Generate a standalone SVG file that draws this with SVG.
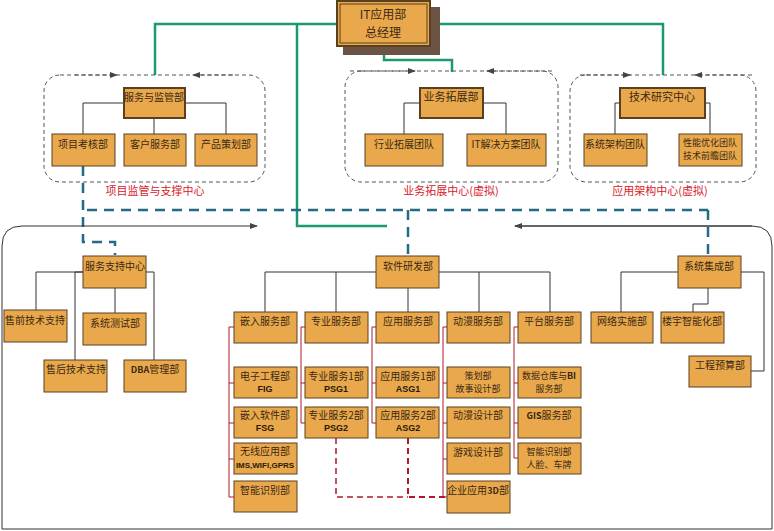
<svg xmlns="http://www.w3.org/2000/svg" width="774" height="531" viewBox="0 0 774 531">
<style>
.b{fill:#e9a84b;stroke:#5b4020;stroke-width:1}
.t{font-family:"Noto Sans CJK SC",sans-serif;font-size:10px;fill:#3a2814;text-anchor:middle}
.s{font-size:9px}
.tb{font-family:"Liberation Sans","Noto Sans CJK SC",sans-serif;font-size:9px;font-weight:bold;fill:#2a1a0a;text-anchor:middle}
.r{font-family:"Noto Sans CJK SC",sans-serif;font-size:11px;fill:#d8202a;text-anchor:middle}
.k{fill:none;stroke:#333;stroke-width:1}
.g{fill:none;stroke:#1c9a6c;stroke-width:2.5}
.bl{fill:none;stroke:#236a84;stroke-width:2.5;stroke-dasharray:10,7}
.dg{fill:none;stroke:#555;stroke-width:1;stroke-dasharray:4,3}
.rd{fill:none;stroke:#b0182a;stroke-width:1}
.rdd{fill:none;stroke:#b0182a;stroke-width:1.5;stroke-dasharray:6,4}
</style>
<defs>
<marker id="a" markerWidth="8" markerHeight="8" refX="7" refY="4" orient="auto" markerUnits="userSpaceOnUse"><path d="M0,1 L8,4 L0,7 Z" fill="#444"/></marker>
</defs>
<g id="connectors">
<path class="g" d="M337,24 H155 V75 M297,24 V226 H387 M384,46 V60 H452 V72 M430,24 H663 V75"/>
<rect class="dg" x="44" y="75" width="221" height="107" rx="16"/>
<rect class="dg" x="345" y="71" width="213" height="111" rx="16"/>
<rect class="dg" x="570" y="75" width="186" height="107" rx="16"/>
<path class="dg" d="M75,75 H117" marker-end="url(#a)"/>
<path class="dg" d="M233,75 H193" marker-end="url(#a)"/>
<path class="dg" d="M350,71 H415" marker-end="url(#a)"/>
<path class="dg" d="M552,71 H487" marker-end="url(#a)"/>
<path class="dg" d="M580,75 H630" marker-end="url(#a)"/>
<path class="dg" d="M752,75 H695" marker-end="url(#a)"/>
<path class="k" d="M124,103 H83 V134 M154,118 V134 M185,103 H226 V134"/>
<path class="k" d="M420,103 H404 V134 M483,103 H506 V134"/>
<path class="k" d="M620,103 H615 V134 M705,103 H710 V134"/>
<path class="bl" d="M83,166 V242 H115 V255"/>
<path class="bl" d="M87,210 H708 M408,210 V256 M708,210 V256"/>
<path class="k" d="M2,529 V246 Q2,226 22,226 H257" marker-end="url(#a)"/>
<path class="k" d="M515,226 H752 Q772,226 772,246 V529 H2"/>
<path class="k" d="M752,226 H515" marker-end="url(#a)"/>
<path class="k" d="M83,272 H36 V310 M83,272 H75 V360 M146,272 H154 V360 M115,288 V313"/>
<path class="k" d="M265,312 V272 H550 V312 M336,272 V312 M408,288 V312 M479,272 V312"/>
<path class="k" d="M678,272 H621 V312 M708,288 V304 H693 V312 M741,272 H764 V371 H751"/>
<path class="rd" d="M234,327 H229 V497 H234 M229,383 H234 M229,423 H234 M229,459 H234"/>
<path class="rd" d="M305,327 H301 V423 H305 M301,383 H305"/>
<path class="rd" d="M376,327 H372 V423 H376 M372,383 H376"/>
<path class="rd" d="M447,327 H443 V497 H447 M443,383 H447 M443,423 H447 M443,459 H447"/>
<path class="rd" d="M518,327 H514 V458 H518 M514,383 H518 M514,423 H518"/>
<path class="rdd" d="M336,438 V497 H408"/>
<path class="rdd" d="M408,438 V497 H447" style="stroke-width:2"/>
</g>
<g id="gm"><rect x="343" y="7" width="97" height="48" fill="#6b5443"/><rect class="b" x="337" y="1" width="93" height="45" style="stroke-width:2"/><rect x="340" y="4" width="87" height="39" fill="none" stroke="#5b4020"/><text class="t" x="383" y="19" style="font-size:12px">IT应用部</text><text class="t" x="383" y="37" style="font-size:12px">总经理</text></g>
<g id="g1">
<g id="n_fwjg"><rect class="b" x="124" y="88" width="61" height="30" style="stroke-width:2"/><text class="t" x="154" y="101">服务与监管部</text></g>
<g id="n_xmkh"><rect class="b" x="52" y="134" width="63" height="32"/><text class="t" x="83" y="148">项目考核部</text></g>
<g id="n_khfw"><rect class="b" x="124" y="134" width="62" height="32"/><text class="t" x="155" y="148">客户服务部</text></g>
<g id="n_cpch"><rect class="b" x="195" y="134" width="62" height="32"/><text class="t" x="226" y="148">产品策划部</text></g>
<text class="r" x="155" y="195">项目监管与支撑中心</text>
</g>
<g id="g2">
<g id="n_ywtz"><rect class="b" x="420" y="88" width="63" height="30" style="stroke-width:2"/><text class="t" x="451" y="101" style="font-size:11px">业务拓展部</text></g>
<g id="n_hytz"><rect class="b" x="365" y="134" width="78" height="32"/><text class="t" x="404" y="148">行业拓展团队</text></g>
<g id="n_itjj"><rect class="b" x="467" y="134" width="79" height="32"/><text class="t" x="506" y="148">IT解决方案团队</text></g>
<text class="r" x="451" y="195">业务拓展中心(虚拟)</text>
</g>
<g id="g3">
<g id="n_jsyj"><rect class="b" x="620" y="88" width="85" height="30" style="stroke-width:2"/><text class="t" x="662" y="101" style="font-size:11px">技术研究中心</text></g>
<g id="n_xtjg"><rect class="b" x="584" y="134" width="63" height="32"/><text class="t" x="615" y="148">系统架构团队</text></g>
<g id="n_xnyh"><rect class="b" x="679" y="134" width="63" height="32"/><text class="t s" x="710" y="146">性能优化团队</text><text class="t s" x="710" y="159">技术前瞻团队</text></g>
<text class="r" x="660" y="195">应用架构中心(虚拟)</text>
</g>
<g id="n_fwzc"><rect class="b" x="83" y="256" width="63" height="32"/><text class="t" x="115" y="270">服务支持中心</text></g>
<g id="n_sq"><rect class="b" x="4" y="310" width="63" height="32"/><text class="t" x="35" y="324">售前技术支持</text></g>
<g id="n_xtcs"><rect class="b" x="83" y="313" width="63" height="32"/><text class="t" x="115" y="327">系统测试部</text></g>
<g id="n_sh"><rect class="b" x="44" y="360" width="63" height="32"/><text class="t" x="76" y="373">售后技术支持</text></g>
<g id="n_dba"><rect class="b" x="124" y="360" width="62" height="32"/><text class="t" x="155" y="373"><tspan style="font-weight:bold;font-size:9px">DBA</tspan>管理部</text></g>
<g id="n_rjyf"><rect class="b" x="376" y="256" width="63" height="32"/><text class="t" x="408" y="270">软件研发部</text></g>
<g id="n_qrfw"><rect class="b" x="234" y="312" width="63" height="31"/><text class="t" x="265" y="325">嵌入服务部</text></g>
<g id="n_zyfw"><rect class="b" x="305" y="312" width="63" height="31"/><text class="t" x="336" y="325">专业服务部</text></g>
<g id="n_yyfw"><rect class="b" x="376" y="312" width="63" height="31"/><text class="t" x="408" y="325">应用服务部</text></g>
<g id="n_dmfw"><rect class="b" x="447" y="312" width="63" height="31"/><text class="t" x="478" y="325">动漫服务部</text></g>
<g id="n_ptfw"><rect class="b" x="518" y="312" width="63" height="31"/><text class="t" x="549" y="325">平台服务部</text></g>
<g id="n_dzgc"><rect class="b" x="234" y="367" width="63" height="31"/><text class="t" x="265" y="380">电子工程部</text><text class="tb" x="265" y="392">FIG</text></g>
<g id="n_qrrj"><rect class="b" x="234" y="407" width="63" height="31"/><text class="t" x="265" y="419">嵌入软件部</text><text class="tb" x="265" y="431">FSG</text></g>
<g id="n_wxyy"><rect class="b" x="234" y="443" width="63" height="31"/><text class="t" x="265" y="455">无线应用部</text><text class="tb" x="265" y="468" style="font-size:8px">IMS,WIFI,GPRS</text></g>
<g id="n_znsb1"><rect class="b" x="234" y="481" width="63" height="31"/><text class="t" x="265" y="494">智能识别部</text></g>
<g id="n_psg1"><rect class="b" x="305" y="367" width="63" height="31"/><text class="t" x="336" y="380">专业服务1部</text><text class="tb" x="336" y="392">PSG1</text></g>
<g id="n_psg2"><rect class="b" x="305" y="407" width="63" height="31"/><text class="t" x="336" y="419">专业服务2部</text><text class="tb" x="336" y="431">PSG2</text></g>
<g id="n_asg1"><rect class="b" x="376" y="367" width="63" height="31"/><text class="t" x="408" y="380">应用服务1部</text><text class="tb" x="408" y="392">ASG1</text></g>
<g id="n_asg2"><rect class="b" x="376" y="407" width="63" height="31"/><text class="t" x="408" y="419">应用服务2部</text><text class="tb" x="408" y="431">ASG2</text></g>
<g id="n_chb"><rect class="b" x="447" y="367" width="63" height="31"/><text class="t s" x="478" y="379">策划部</text><text class="t s" x="478" y="392">故事设计部</text></g>
<g id="n_dmsj"><rect class="b" x="447" y="407" width="63" height="31"/><text class="t" x="478" y="419">动漫设计部</text></g>
<g id="n_yxsj"><rect class="b" x="447" y="443" width="63" height="31"/><text class="t" x="478" y="456">游戏设计部</text></g>
<g id="n_qy3d"><rect class="b" x="447" y="481" width="63" height="32"/><text class="t" x="478" y="494">企业应用<tspan style="font-weight:bold;font-size:9px">3D</tspan>部</text></g>
<g id="n_sjck"><rect class="b" x="518" y="367" width="63" height="31"/><text class="t s" x="549" y="379">数据仓库与<tspan style="font-weight:bold">BI</tspan></text><text class="t s" x="549" y="392">服务部</text></g>
<g id="n_gis"><rect class="b" x="518" y="407" width="63" height="31"/><text class="t" x="549" y="419"><tspan style="font-weight:bold;font-size:9px">GIS</tspan>服务部</text></g>
<g id="n_znsb2"><rect class="b" x="518" y="443" width="63" height="31"/><text class="t s" x="549" y="455">智能识别部</text><text class="t s" x="549" y="468">人脸、车牌</text></g>
<g id="n_xtjc"><rect class="b" x="678" y="256" width="63" height="32"/><text class="t" x="709" y="270">系统集成部</text></g>
<g id="n_wlss"><rect class="b" x="591" y="312" width="62" height="31"/><text class="t" x="622" y="325">网络实施部</text></g>
<g id="n_lyzn"><rect class="b" x="661" y="312" width="63" height="31"/><text class="t" x="692" y="325">楼宇智能化部</text></g>
<g id="n_gcys"><rect class="b" x="689" y="356" width="62" height="31"/><text class="t" x="720" y="369">工程预算部</text></g>
</svg>
